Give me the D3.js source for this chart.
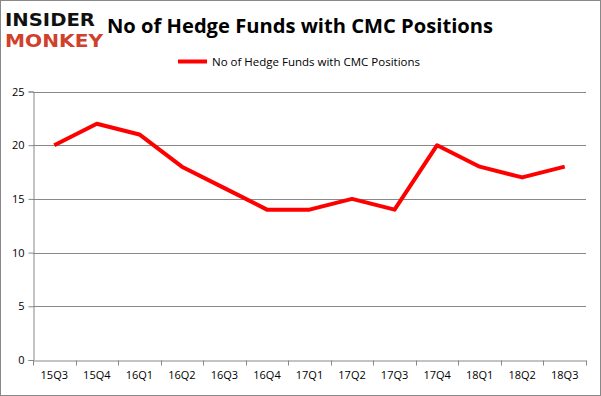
<!DOCTYPE html>
<html><head><meta charset="utf-8">
<script src="https://cdn.jsdelivr.net/npm/d3@7"></script>
<style>body{margin:0;background:#fff}svg{display:block}</style>
</head><body>
<script>
const categories = ["15Q3","15Q4","16Q1","16Q2","16Q3","16Q4","17Q1","17Q2","17Q3","17Q4","18Q1","18Q2","18Q3"];
const values = [20,22,21,18,16,14,14,15,14,20,18,17,18];
const yTicks = [0,5,10,15,20,25];
const seriesName = "No of Hedge Funds with CMC Positions";
const titleText = "No of Hedge Funds with CMC Positions";

(function(){
const W = 601, H = 396;
const svg = d3.select("body").append("svg").attr("width", W).attr("height", H);
svg.append("rect").attr("x",0.5).attr("y",0.5).attr("width",W-1).attr("height",H-1)
  .attr("fill","#fff").attr("stroke","#888");

const pLeft = 33, pRight = 586, pTop = 91.5, pBottom = 360;
const x = d3.scaleBand().domain(categories).range([pLeft, pRight]);
const y = d3.scaleLinear().domain([0,25]).range([pBottom, pTop]);

// gridlines
svg.append("g").selectAll("line").data(yTicks.filter(d=>d>0)).join("line")
  .attr("x1", pLeft).attr("x2", pRight)
  .attr("y1", d=>Math.round(y(d))+0.5).attr("y2", d=>Math.round(y(d))+0.5)
  .attr("stroke","#888").attr("stroke-width",1);

// y axis
const yAxis = svg.append("g").attr("transform",`translate(${pLeft+0.5},0)`)
  .call(d3.axisLeft(y).tickValues(yTicks).tickSize(5).tickPadding(4));
yAxis.select(".domain").attr("stroke","#888");
yAxis.selectAll(".tick line").attr("stroke","#888");
yAxis.selectAll("text").attr("font-family","'Open Sans', 'DejaVu Sans', sans-serif").attr("font-size",11).attr("fill","#000");

// x axis
const xAxis = svg.append("g").attr("transform",`translate(0,${Math.round(pBottom)+0.5})`)
  .call(d3.axisBottom(x).tickSize(0).tickPadding(11));
xAxis.select(".domain").attr("stroke","#888");
xAxis.selectAll(".tick line").remove();
xAxis.append("g").selectAll("line").data(categories.concat(["_end"])).join("line")
  .attr("x1",(d,i)=>Math.round(pLeft + i*x.bandwidth())+0.5)
  .attr("x2",(d,i)=>Math.round(pLeft + i*x.bandwidth())+0.5)
  .attr("y1",0).attr("y2",5).attr("stroke","#888");
xAxis.selectAll("text").attr("font-family","'Open Sans', 'DejaVu Sans', sans-serif").attr("font-size",11).attr("fill","#000");

// line
const line = d3.line().x((d,i)=>x(categories[i])+x.bandwidth()/2).y(d=>y(d));
svg.append("path").datum(values).attr("d",line).attr("fill","none")
  .attr("stroke","#ff0000").attr("stroke-width",4).attr("stroke-linejoin","round");

// title
svg.append("text").attr("x",300).attr("y",33).attr("text-anchor","middle")
  .attr("font-family","'Open Sans', 'Liberation Sans', sans-serif").attr("font-weight","bold")
  .attr("font-size",20).attr("textLength",386).attr("lengthAdjust","spacingAndGlyphs").text(titleText);

// legend
svg.append("line").attr("x1",178).attr("x2",207).attr("y1",61.5).attr("y2",61.5)
  .attr("stroke","#ff0000").attr("stroke-width",4);
svg.append("text").attr("x",212).attr("y",66).attr("font-family","'Open Sans', 'DejaVu Sans', sans-serif")
  .attr("font-size",11.5).attr("textLength",208).attr("lengthAdjust","spacingAndGlyphs").text(seriesName);

// logo
svg.append("text").attr("x",5).attr("y",26).attr("font-family","'DejaVu Sans', sans-serif")
  .attr("font-weight","bold").attr("font-size",18).attr("textLength",90).attr("lengthAdjust","spacingAndGlyphs")
  .attr("fill","#111").text("INSIDER");
svg.append("text").attr("x",5).attr("y",47).attr("font-family","'DejaVu Sans', sans-serif")
  .attr("font-weight","bold").attr("font-size",18).attr("textLength",98).attr("lengthAdjust","spacingAndGlyphs")
  .attr("fill","#d0402a").text("MONKEY");
})();
</script>
</body></html>
